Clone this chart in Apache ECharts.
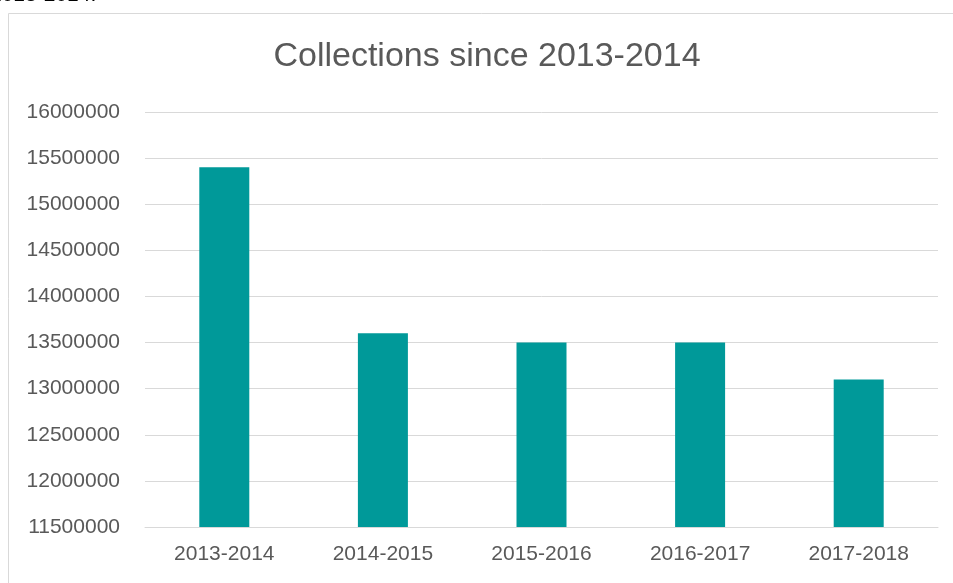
<!DOCTYPE html>
<html><head><meta charset="utf-8">
<script src="https://cdn.jsdelivr.net/npm/echarts@6/dist/echarts.min.js"></script>
<style>html,body{margin:0;padding:0;background:#fff}#c{width:953px;height:583px}</style>
</head><body><div id="c"></div>
<script>
const categories = ['2013-2014','2014-2015','2015-2016','2016-2017','2017-2018'];
const collections = [15400000, 13600000, 13500000, 13500000, 13100000];
const yMin = 11500000, yMax = 16000000, yStep = 500000;

const chart = echarts.init(document.getElementById('c'), null, {renderer:'canvas'});
const font = 'Liberation Sans, Arial, sans-serif';
chart.setOption({
  animation:false,
  backgroundColor:'#fff',
  graphic:[
    {type:'rect', shape:{x:8.5,y:13.5,width:1000,height:1000}, style:{fill:'none',stroke:'#d9d9d9',lineWidth:1}, silent:true},
    {type:'text', left:-10, top:-15, style:{text:'2013-2014.', font:'21px Liberation Sans, Arial, sans-serif', fill:'#000'}},
    {type:'text', x:487, y:57, style:{text:'Collections since 2013-2014', font:'34px Liberation Sans, Arial, sans-serif', fill:'#595959', textAlign:'center', textVerticalAlign:'middle'}}
  ],
  grid:{left:145, right:15, top:112, bottom:56, containLabel:false},
  xAxis:{type:'category', data:categories,
    axisLine:{lineStyle:{color:'#d9d9d9'}}, axisTick:{show:false},
    axisLabel:{fontFamily:font,fontSize:21,color:'#595959',margin:17}},
  yAxis:{type:'value', min:yMin, max:yMax, interval:yStep,
    axisLine:{show:false}, axisTick:{show:false},
    splitLine:{lineStyle:{color:'#d9d9d9'}},
    axisLabel:{fontFamily:font,fontSize:21,color:'#595959',margin:25, formatter:v => String(v)}},
  series:[{type:'bar', data:collections, barWidth:50, itemStyle:{color:'#009999'}}]
});
</script></body></html>
